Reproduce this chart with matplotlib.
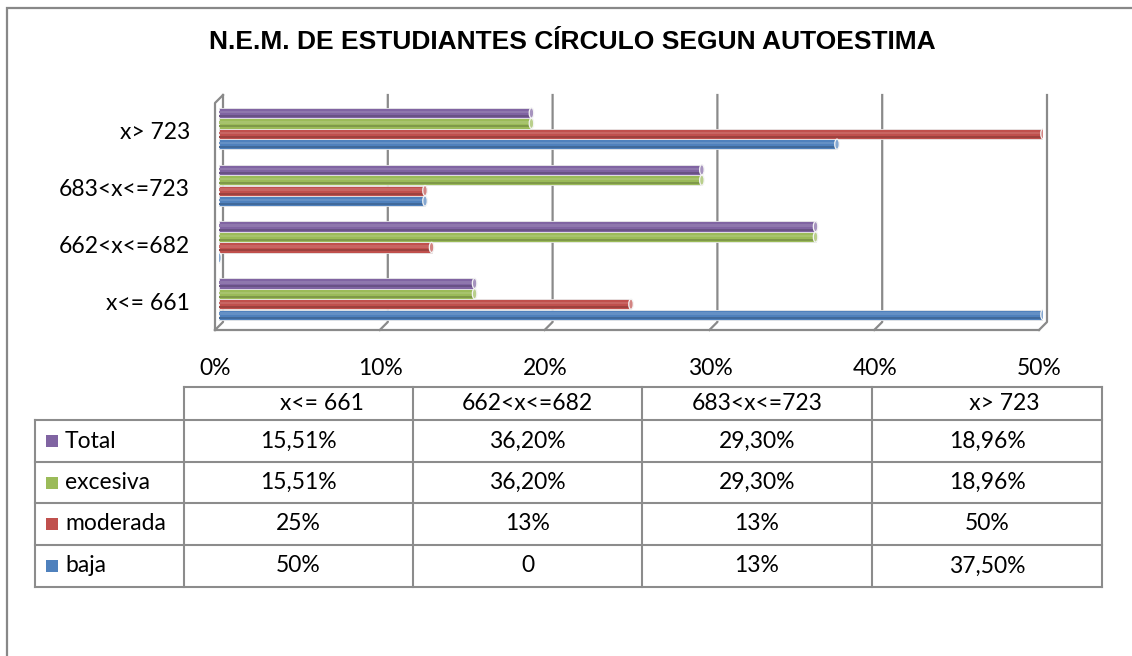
import matplotlib
matplotlib.use("Agg")
import matplotlib.pyplot as plt
from matplotlib.lines import Line2D
from matplotlib.patches import Ellipse, Rectangle
from matplotlib.transforms import ScaledTranslation
import matplotlib.colors as mcolors
import numpy as np

# ---------------- data ----------------
title = "N.E.M. DE ESTUDIANTES CÍRCULO SEGUN AUTOESTIMA"
categories = ["x<= 661", "662<x<=682", "683<x<=723", "x> 723"]
table_headers = ["        x<= 661", "662<x<=682", "683<x<=723", "      x> 723"]
series_names = ["baja", "moderada", "excesiva", "Total"]
baja = [0.50, 0.0, 0.125, 0.375]
moderada = [0.25, 0.129, 0.125, 0.50]
excesiva = [0.1551, 0.3620, 0.2930, 0.1896]
total = [0.1551, 0.3620, 0.2930, 0.1896]
series_values = [baja, moderada, excesiva, total]
series_colors = ["#4F81BD", "#C0504D", "#9BBB59", "#8064A2"]
table_text = {
    "Total": ["15,51%", "36,20%", "29,30%", "18,96%"],
    "excesiva": ["15,51%", "36,20%", "29,30%", "18,96%"],
    "moderada": ["25%", "13%", "13%", "50%"],
    "baja": ["50%", "0", "13%", "37,50%"],
}
table_rows = ["Total", "excesiva", "moderada", "baja"]
x_ticks = [0, 0.1, 0.2, 0.3, 0.4, 0.5]
x_ticklabels = ["0%", "10%", "20%", "30%", "40%", "50%"]

# ---------------- figure ----------------
W, H = 1132, 656
fig = plt.figure(figsize=(W / 100, H / 100), dpi=100)
fig.patch.set_facecolor("white")
FONT = ["Lato", "DejaVu Sans"]
GRID = "#8a8a8a"


def fx(p):
    return p / W


def fy(p):
    return 1 - p / H


def line(xs, ys, ax=None, **kw):
    art = Line2D([fx(v) for v in xs], [fy(v) for v in ys], transform=fig.transFigure, **kw)
    if ax is None:
        fig.add_artist(art)
    else:
        art.set_clip_on(False)
        ax.add_artist(art)
    return art


# outer chart frame
line([7, 7, W + 10], [H + 10, 8, 8], color="#888888", lw=1.6, solid_joinstyle="miter")

# title
fig.text(fx(572), fy(42), title, ha="center", va="center", fontsize=19,
         fontweight="bold", family=["Liberation Sans", "DejaVu Sans"], color="black")

# plot axes
ax_left, ax_right, ax_top, ax_bot = 219, 1043, 95, 330
ax = fig.add_axes([fx(ax_left), fy(ax_bot), (ax_right - ax_left) / W, (ax_bot - ax_top) / H])
ax.set_xlim(0, 0.5)
grp = 56.8
ax.set_ylim((299 - ax_bot) / grp, (299 - ax_top) / grp)
ax.patch.set_alpha(0)
for s in ax.spines.values():
    s.set_visible(False)

n = len(categories)
ypos = np.arange(n)
step = 10.4 / grp
bh = 10.2 / grp
offsets = (np.arange(len(series_names)) - 1.5) * step
px_per_unit = (ax_right - ax_left) / 0.5


def lighten(c, f):
    r = np.array(mcolors.to_rgb(c))
    return tuple(r + (1 - r) * f)


def darken(c, f):
    r = np.array(mcolors.to_rgb(c))
    return tuple(r * (1 - f))


for vals, col, off in zip(series_values, series_colors, offsets):
    y = ypos + off
    ax.barh(y, vals, height=bh, color=col, edgecolor="#e8e8e8", linewidth=0.6, zorder=2)
    ax.barh(y + bh * 0.1, vals, height=bh * 0.25, color=lighten(col, 0.12), linewidth=0, zorder=2.1)
    ax.barh(y - bh * 0.3, vals, height=bh * 0.2, color=darken(col, 0.18), linewidth=0, zorder=2.1)
    for v, yy in zip(vals, y):
        ax.add_patch(Ellipse((v, yy), width=4.5 / px_per_unit, height=bh,
                             facecolor=lighten(col, 0.3), edgecolor="#f4f4f4", lw=0.9, zorder=2.3))

ax.set_yticks(ypos)
ax.set_yticklabels(categories, fontsize=16.5, family=FONT)
ax.set_xticks(x_ticks)
ax.set_xticklabels(x_ticklabels, fontsize=16.5, family=FONT)
ax.tick_params(axis="y", length=0, pad=21)
ax.tick_params(axis="x", length=0, pad=20)
for lab in ax.get_xticklabels():
    lab.set_transform(lab.get_transform() + ScaledTranslation(-3.5 / 100, 0, fig.dpi_scale_trans))
for lab in ax.get_yticklabels():
    lab.set_transform(lab.get_transform() + ScaledTranslation(0, -2 / 100, fig.dpi_scale_trans))


def data_px(t):
    return ax_left + t * px_per_unit


# 3-D style walls / gridlines (behind the bars)
d = 4
back_top, back_bot, floor = 95, 322, 330
for t in x_ticks:
    xp = data_px(t)
    line([xp + d, xp + d, xp - d], [back_top, back_bot, floor], ax=ax, color=GRID, lw=1.6, zorder=0.5)
x0 = data_px(x_ticks[0])
x1 = data_px(x_ticks[-1])
line([x0 - d, x1 - d], [floor, floor], ax=ax, color=GRID, lw=1.6, zorder=0.5)
line([x0 - d, x0 - d, x0 + d], [floor, back_top + 8, back_top], ax=ax, color=GRID, lw=1.6, zorder=0.5)

# ---------------- data table ----------------
col_edges = [35, 184, 413, 642, 872, 1102]
row_edges = [387, 420, 462, 503, 545, 587]
TL = "#8c8c8c"
tlw = 1.5
line([col_edges[1], col_edges[-1]], [row_edges[0], row_edges[0]], color=TL, lw=tlw)
for r in row_edges[1:]:
    line([col_edges[0], col_edges[-1]], [r, r], color=TL, lw=tlw)
line([col_edges[0], col_edges[0]], [row_edges[1], row_edges[-1]], color=TL, lw=tlw)
for c in col_edges[1:]:
    line([c, c], [row_edges[0], row_edges[-1]], color=TL, lw=tlw)

for j, h in enumerate(table_headers):
    cx = (col_edges[j + 1] + col_edges[j + 2]) / 2
    cy = (row_edges[0] + row_edges[1]) / 2
    fig.text(fx(cx), fy(cy), h, ha="center", va="center", fontsize=16.5, family=FONT)

color_of = dict(zip(series_names, series_colors))
for i, name in enumerate(table_rows):
    cy = (row_edges[i + 1] + row_edges[i + 2]) / 2
    fig.patches.append(Rectangle((fx(46), fy(cy + 6)), 12 / W, 12 / H, transform=fig.transFigure,
                                 facecolor=color_of[name], edgecolor="none", figure=fig))
    fig.text(fx(65), fy(cy), name, ha="left", va="center", fontsize=16.5, family=FONT)
    for j, txt in enumerate(table_text[name]):
        cx = (col_edges[j + 1] + col_edges[j + 2]) / 2
        fig.text(fx(cx), fy(cy), txt, ha="center", va="center", fontsize=16.5, family=FONT)

fig.savefig("out.png", dpi=100, facecolor="white")
